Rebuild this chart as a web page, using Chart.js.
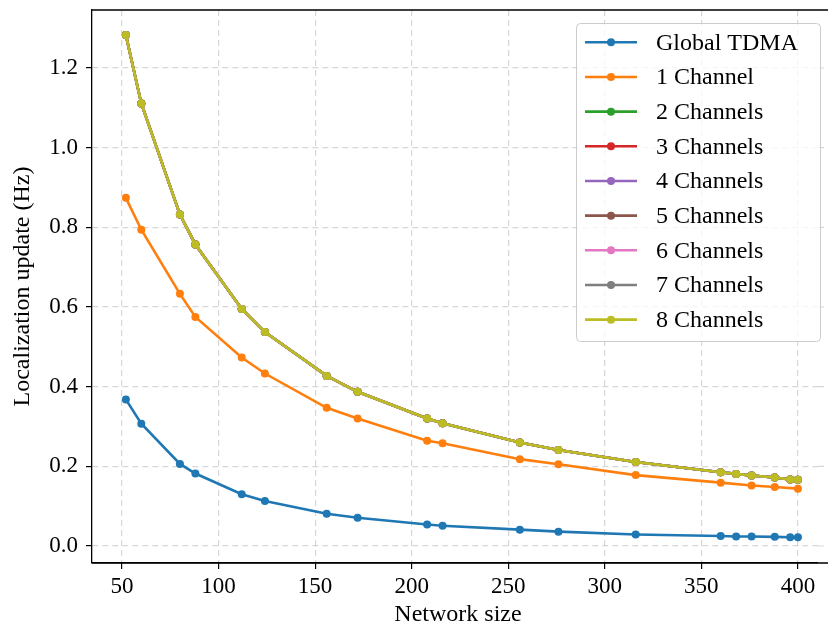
<!DOCTYPE html>
<html>
<head>
<meta charset="utf-8">
<script src="https://cdn.jsdelivr.net/npm/chart.js@4"></script>
<style>
  body { margin: 0; background: #fff; }
  #wrap { width: 828px; height: 630px; }
</style>
</head>
<body>
<div id="wrap"><canvas id="chart-1" width="828" height="630"></canvas></div>
<script>
const networkSize = [52, 60, 80, 88, 112, 124, 156, 172, 208, 216, 256, 276, 316, 360, 368, 376, 388, 396, 400];
const globalTdma = [0.368, 0.307, 0.206, 0.182, 0.130, 0.113, 0.081, 0.071, 0.054, 0.051, 0.041, 0.036, 0.029, 0.025, 0.024, 0.024, 0.023, 0.022, 0.022];
const oneChannel = [0.874, 0.794, 0.633, 0.575, 0.473, 0.433, 0.347, 0.320, 0.264, 0.258, 0.218, 0.205, 0.178, 0.159, null, 0.152, 0.148, null, 0.144];
// 2..8 channels lie on top of each other in the picture
const multiChannel = [1.283, 1.111, 0.832, 0.757, 0.595, 0.537, 0.427, 0.387, 0.320, 0.308, 0.260, 0.241, 0.211, 0.185, 0.181, 0.177, 0.172, 0.167, 0.166];

const seriesLabels = ["Global TDMA", "1 Channel", "2 Channels", "3 Channels", "4 Channels", "5 Channels", "6 Channels", "7 Channels", "8 Channels"];
const seriesValues = [globalTdma, oneChannel, multiChannel, multiChannel, multiChannel, multiChannel, multiChannel, multiChannel, multiChannel];
const colors = ["#1f77b4", "#ff7f0e", "#2ca02c", "#d62728", "#9467bd", "#8c564b", "#e377c2", "#7f7f7f", "#bcbd22"];

const xTicks = [50, 100, 150, 200, 250, 300, 350, 400];
const yTicks = [0.0, 0.2, 0.4, 0.6, 0.8, 1.0, 1.2];

const FONT = "'Liberation Serif', 'DejaVu Serif', serif";
const gridColor = "rgba(176,176,176,0.5)";

const datasets = seriesLabels.map((label, i) => ({
  label: label,
  data: networkSize.map((x, j) => ({ x: x, y: seriesValues[i][j] })),
  borderColor: colors[i],
  backgroundColor: colors[i],
  borderWidth: 2.6,
  pointRadius: 4,
  pointHoverRadius: 4,
  pointBorderWidth: 0,
  spanGaps: true,
  tension: 0,
  order: seriesLabels.length - i,
}));

// spines run off the right edge (no right spine) + legend box, like matplotlib
const framePlugin = {
  id: "frame",
  afterDraw(chart) {
    const ctx = chart.ctx;
    const a = chart.chartArea;
    const x0 = a.right - 6;
    ctx.save();
    // clear the strip at the right edge, then extend grid + spines to the page edge
    ctx.fillStyle = "#fff";
    ctx.fillRect(x0, a.top + 1, 828 - x0, a.bottom - a.top + 14);
    ctx.strokeStyle = gridColor;
    ctx.lineWidth = 1.2;
    ctx.beginPath();
    yTicks.forEach((v) => {
      const py = chart.scales.y.getPixelForValue(v);
      ctx.moveTo(x0, py);
      ctx.lineTo(828, py);
    });
    ctx.setLineDash([6, 4]);
    ctx.stroke();
    ctx.setLineDash([]);
    ctx.strokeStyle = "#000";
    ctx.lineWidth = 1.3;
    ctx.beginPath();
    ctx.moveTo(a.left, a.top);
    ctx.lineTo(828, a.top);
    ctx.moveTo(a.left, a.bottom);
    ctx.lineTo(828, a.bottom);
    ctx.stroke();

    const bx = 576.5, by = 23.5, bw = 244, bh = 318;
    ctx.fillStyle = "rgba(255,255,255,0.8)";
    ctx.strokeStyle = "#cccccc";
    ctx.lineWidth = 1;
    ctx.beginPath();
    ctx.roundRect(bx, by, bw, bh, 4);
    ctx.fill();
    ctx.stroke();

    ctx.font = "24px " + FONT;
    ctx.textBaseline = "middle";
    chart.data.datasets.forEach((ds, i) => {
      const y = 42.3 + i * 34.67;
      ctx.strokeStyle = ds.borderColor;
      ctx.lineWidth = 2.6;
      ctx.beginPath();
      ctx.moveTo(585, y);
      ctx.lineTo(637, y);
      ctx.stroke();
      ctx.fillStyle = ds.borderColor;
      ctx.beginPath();
      ctx.arc(611, y, 4, 0, Math.PI * 2);
      ctx.fill();
      ctx.fillStyle = "#000";
      ctx.fillText(ds.label, 656, y + 1);
    });
    ctx.restore();
  },
};

const ctx1 = document.getElementById("chart-1");

const mychart = new Chart(ctx1, {
  type: "line",
  data: { datasets: datasets },
  plugins: [framePlugin],
  options: {
    responsive: false,
    animation: false,
    layout: { padding: { top: 10, right: 0, left: 0, bottom: 0 } },
    plugins: {
      legend: { display: false },
      tooltip: { enabled: false },
    },
    scales: {
      x: {
        type: "linear",
        min: 34.47,
        max: 413.5,
        afterBuildTicks: (s) => { s.ticks = xTicks.map((v) => ({ value: v })); },
        afterFit: (s) => { s.height = 67; s.paddingLeft = 0; s.paddingRight = 0; },
        ticks: {
          color: "#000",
          font: { family: FONT, size: 23 },
          padding: 4,
          maxRotation: 0,
          callback: (v) => String(v),
        },
        grid: {
          color: gridColor,
          lineWidth: 1.2,
          tickColor: "#000",
          tickLength: 6,
          tickWidth: 1.2,
        },
        border: { color: "#000", width: 1.3, dash: [6, 4] },
        title: {
          display: true,
          text: "Network size",
          color: "#000",
          font: { family: FONT, size: 24 },
          padding: { top: 0, bottom: 1 },
        },
      },
      y: {
        type: "linear",
        min: -0.0427,
        max: 1.3456,
        afterBuildTicks: (s) => { s.ticks = yTicks.map((v) => ({ value: v })); },
        afterFit: (s) => { s.width = 92; s.paddingTop = 0; s.paddingBottom = 0; },
        ticks: {
          color: "#000",
          font: { family: FONT, size: 23 },
          padding: 8,
          callback: (v) => v.toFixed(1),
        },
        grid: {
          color: gridColor,
          lineWidth: 1.2,
          tickColor: "#000",
          tickLength: 6,
          tickWidth: 1.2,
        },
        border: { color: "#000", width: 1.3, dash: [6, 4] },
        title: {
          display: true,
          text: "Localization update (Hz)",
          color: "#000",
          font: { family: FONT, size: 24 },
          padding: { top: 8, bottom: 0 },
        },
      },
    },
  },
});
</script>
</body>
</html>
